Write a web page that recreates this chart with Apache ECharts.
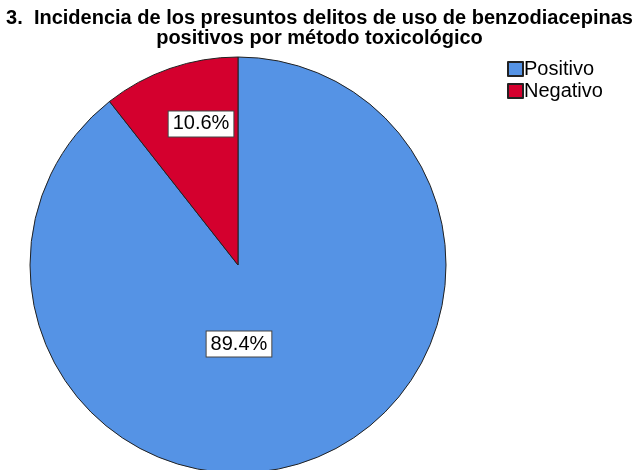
<!DOCTYPE html>
<html>
<head>
<meta charset="utf-8">
<script src="https://cdn.jsdelivr.net/npm/echarts@6/dist/echarts.min.js"></script>
<style>
html,body{margin:0;padding:0;background:#fff;}
#c{width:639px;height:470px;}
</style>
</head>
<body>
<div id="c"></div>
<script>
const titleLines = ["3.  Incidencia de los presuntos delitos de uso de benzodiacepinas", "positivos por método toxicológico"];
const categories = ["Positivo", "Negativo"];
const values = [89.4, 10.6];
const colors = ["#5593e5", "#d4002e"];
const labelOffsets = [[-34, -22], [-2, -40]];

const chart = echarts.init(document.getElementById('c'), null, {renderer: 'canvas'});
const FONT = "'Liberation Sans', Arial, sans-serif";
chart.setOption({
  animation: false,
  backgroundColor: '#fff',
  title: {
    text: titleLines.join('\n'),
    left: 'center',
    top: 8,
    padding: 0,
    textStyle: {fontFamily: FONT, fontSize: 20, fontWeight: 'bold', color: '#000', lineHeight: 20}
  },
  legend: {
    orient: 'vertical',
    left: 507,
    top: 59,
    padding: 0,
    itemWidth: 15,
    itemHeight: 14,
    itemGap: 2,
    icon: 'rect',
    selectedMode: false,
    textStyle: {fontFamily: FONT, fontSize: 20, color: '#000', padding: [0, 0, 0, -4]},
    data: categories
  },
  series: [{
    type: 'pie',
    center: [238, 265],
    radius: 208,
    startAngle: 90,
    clockwise: true,
    silent: true,
    emphasis: {disabled: true},
    itemStyle: {borderColor: '#222', borderWidth: 1},
    labelLine: {show: false},
    data: categories.map((c, i) => ({
      name: c,
      value: values[i],
      itemStyle: {color: colors[i]},
      label: {offset: labelOffsets[i]}
    })),
    label: {
      show: true,
      position: 'inside',
      formatter: p => p.value.toFixed(1) + '%',
      fontFamily: FONT,
      fontSize: 20,
      lineHeight: 20,
      color: '#000',
      backgroundColor: '#fff',
      borderColor: '#444',
      borderWidth: 1,
      padding: [3, 4, 2, 4]
    }
  }]
});
</script>
</body>
</html>
